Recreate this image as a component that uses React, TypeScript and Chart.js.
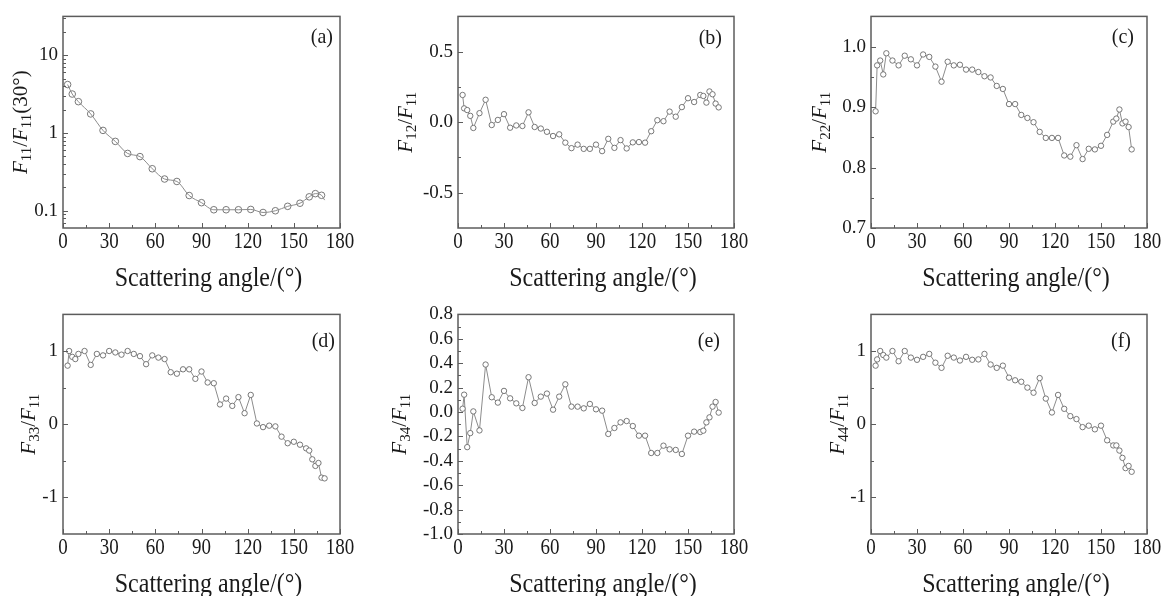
import React, { useEffect, useRef } from 'react';
import { Chart, registerables } from 'chart.js';
Chart.register(...registerables);

// ---------------- data ----------------
const anglesA = [3, 6, 10, 18, 26, 34, 42, 50, 58, 66, 74, 82, 90, 98, 106, 114, 122, 130, 138, 146, 154, 160, 164, 168];
const f11Ratio = [4.2, 3.17, 2.53, 1.76, 1.08, 0.78, 0.546, 0.497, 0.347, 0.256, 0.238, 0.157, 0.127, 0.103, 0.103, 0.103, 0.104, 0.095, 0.1, 0.114, 0.125, 0.151, 0.166, 0.158];
const f11FitTailAngle = [170];
const f11FitTailValue = [0.137];

const angles = [3, 4, 6, 8, 10, 14, 18, 22, 26, 30, 34, 38, 42, 46, 50, 54, 58, 62, 66, 70, 74, 78, 82, 86, 90, 94, 98, 102, 106, 110, 114, 118, 122, 126, 130, 134, 138, 142, 146, 150, 154, 158, 160, 162, 164, 166, 168, 170];
const f12 = [0.193, 0.098, 0.086, 0.045, -0.041, 0.064, 0.159, -0.02, 0.016, 0.057, -0.039, -0.023, -0.027, 0.07, -0.034, -0.045, -0.068, -0.098, -0.086, -0.145, -0.184, -0.159, -0.189, -0.189, -0.159, -0.205, -0.118, -0.182, -0.127, -0.186, -0.143, -0.141, -0.145, -0.064, 0.014, 0.007, 0.075, 0.039, 0.107, 0.17, 0.143, 0.193, 0.186, 0.139, 0.218, 0.198, 0.132, 0.105];
const f22 = [0.893, 0.969, 0.977, 0.954, 0.989, 0.977, 0.969, 0.985, 0.979, 0.969, 0.987, 0.983, 0.967, 0.942, 0.975, 0.969, 0.97, 0.962, 0.962, 0.958, 0.951, 0.949, 0.935, 0.93, 0.905, 0.905, 0.887, 0.882, 0.875, 0.859, 0.849, 0.849, 0.849, 0.82, 0.818, 0.837, 0.814, 0.831, 0.83, 0.836, 0.854, 0.876, 0.881, 0.896, 0.873, 0.876, 0.867, 0.83];
const f33 = [0.8, 1.0, 0.92, 0.89, 0.96, 1.0, 0.81, 0.96, 0.94, 1.0, 0.98, 0.95, 1.0, 0.96, 0.93, 0.82, 0.94, 0.91, 0.89, 0.71, 0.69, 0.75, 0.75, 0.62, 0.72, 0.57, 0.56, 0.27, 0.35, 0.25, 0.37, 0.15, 0.4, 0.01, -0.04, -0.02, -0.03, -0.17, -0.26, -0.24, -0.28, -0.33, -0.36, -0.48, -0.57, -0.53, -0.73, -0.74];
const f34 = [0.027, 0.142, -0.288, -0.173, 0.005, -0.151, 0.389, 0.121, 0.077, 0.173, 0.112, 0.071, 0.033, 0.285, 0.074, 0.126, 0.151, 0.019, 0.126, 0.227, 0.044, 0.044, 0.03, 0.066, 0.022, 0.011, -0.18, -0.131, -0.085, -0.074, -0.115, -0.194, -0.194, -0.336, -0.336, -0.276, -0.306, -0.311, -0.344, -0.194, -0.161, -0.164, -0.153, -0.085, -0.044, 0.044, 0.082, -0.005];
const f44 = [0.8, 0.885, 1.0, 0.945, 0.91, 1.0, 0.86, 1.0, 0.91, 0.88, 0.92, 0.96, 0.84, 0.77, 0.935, 0.91, 0.87, 0.92, 0.88, 0.885, 0.96, 0.815, 0.77, 0.8, 0.636, 0.6, 0.58, 0.5, 0.43, 0.63, 0.35, 0.16, 0.4, 0.21, 0.11, 0.07, -0.04, -0.02, -0.07, -0.02, -0.22, -0.29, -0.29, -0.36, -0.46, -0.6, -0.57, -0.65];

const xTicks = [0, 30, 60, 90, 120, 150, 180];
const yTicksA = [0.1, 1, 10];
const yTicksB = [-0.5, 0, 0.5];
const yTicksC = [0.7, 0.8, 0.9, 1.0];
const yTicksD = [-1, 0, 1];
const yTicksE = [-1.0, -0.8, -0.6, -0.4, -0.2, 0, 0.2, 0.4, 0.6, 0.8];
const yTicksF = [-1, 0, 1];

const xTitle = 'Scattering angle/(°)';

// ---------------- style ----------------
const FONT = "'Liberation Serif', 'Times New Roman', serif";
const TEXT = '#1a1a1a';
const FRAME = '#5c5c5c';
const LINE = '#8c8c8c';
const MARK = '#6a6a6a';
const X_STRETCH = 1.17;

type Part = { t: string; it?: boolean; sub?: boolean };

type PanelCfg = {
  key: string;
  left: number; top: number; w: number; h: number;
  yW: number; padR: number; padT: number; xH: number;
  log?: boolean; min: number; max: number; yTicks: number[]; dec: number;
  xs: number[]; ys: number[]; showLine: boolean; fit?: boolean; r: number;
  title: Part[]; titleDx: number; label: string; labelDx: number; labelDy: number;
};

const yt = (n: string): Part[] => [
  { t: 'F', it: true }, { t: n, sub: true }, { t: '/' }, { t: 'F', it: true }, { t: '11', sub: true },
];

const panels: PanelCfg[] = [
  { key: 'a', left: 0, top: 0, w: 390, h: 298, yW: 63, padR: 50, padT: 7, xH: 70, log: true, min: 0.06, max: 31.6, yTicks: yTicksA, dec: -1,
    xs: anglesA, ys: f11Ratio, showLine: false, fit: true, r: 3.3,
    title: [{ t: 'F', it: true }, { t: '11', sub: true }, { t: '/' }, { t: 'F', it: true }, { t: '11', sub: true }, { t: '(30°)' }], titleDx: -43, label: '(a)', labelDx: -7, labelDy: 27 },
  { key: 'b', left: 390, top: 0, w: 388, h: 298, yW: 68, padR: 44, padT: 7, xH: 70, min: -0.75, max: 0.75, yTicks: yTicksB, dec: 1,
    xs: angles, ys: f12, showLine: true, r: 2.7, title: yt('12'), titleDx: -53, label: '(b)', labelDx: -12, labelDy: 28 },
  { key: 'c', left: 778, top: 0, w: 390, h: 298, yW: 93, padR: 21, padT: 7, xH: 70, min: 0.7, max: 1.05, yTicks: yTicksC, dec: 1,
    xs: angles, ys: f22, showLine: true, r: 2.7, title: yt('22'), titleDx: -52, label: '(c)', labelDx: -13, labelDy: 27 },
  { key: 'd', left: 0, top: 298, w: 390, h: 298, yW: 63, padR: 50, padT: 16, xH: 62, min: -1.5, max: 1.5, yTicks: yTicksD, dec: 0,
    xs: angles, ys: f33, showLine: true, r: 2.7, title: yt('33'), titleDx: -35, label: '(d)', labelDx: -5, labelDy: 33 },
  { key: 'e', left: 390, top: 298, w: 388, h: 298, yW: 68, padR: 44, padT: 16, xH: 62, min: -1.0, max: 0.8, yTicks: yTicksE, dec: 1,
    xs: angles, ys: f34, showLine: true, r: 2.7, title: yt('34'), titleDx: -59, label: '(e)', labelDx: -14, labelDy: 33 },
  { key: 'f', left: 778, top: 298, w: 390, h: 298, yW: 93, padR: 21, padT: 16, xH: 62, min: -1.5, max: 1.5, yTicks: yTicksF, dec: 0,
    xs: angles, ys: f44, showLine: true, r: 2.7, title: yt('44'), titleDx: -34, label: '(f)', labelDx: -16, labelDy: 33 },
];

function drawRich(ctx: CanvasRenderingContext2D, parts: Part[], cx: number, cy: number, size: number, rotate: boolean) {
  ctx.save();
  ctx.translate(cx, cy);
  if (rotate) ctx.rotate(-Math.PI / 2);
  const fontFor = (p: Part) => `${p.it ? 'italic ' : ''}${p.sub ? Math.round(size * 0.7) : size}px ${FONT}`;
  let total = 0;
  const widths = parts.map((p) => {
    ctx.font = fontFor(p);
    const w = ctx.measureText(p.t).width;
    total += w;
    return w;
  });
  let x = -total / 2;
  ctx.fillStyle = TEXT;
  ctx.textAlign = 'left';
  ctx.textBaseline = 'alphabetic';
  parts.forEach((p, i) => {
    ctx.font = fontFor(p);
    ctx.fillText(p.t, x, size * 0.34 + (p.sub ? size * 0.2 : 0));
    x += widths[i];
  });
  ctx.restore();
}

function stretchedText(ctx: CanvasRenderingContext2D, text: string, x: number, baseY: number, font: string, sy: number, align: CanvasTextAlign) {
  ctx.save();
  ctx.translate(x, baseY);
  ctx.scale(1, sy);
  ctx.font = font;
  ctx.fillStyle = TEXT;
  ctx.textAlign = align;
  ctx.textBaseline = 'alphabetic';
  ctx.fillText(text, 0, 0);
  ctx.restore();
}

function minorValues(cfg: PanelCfg): number[] {
  const out: number[] = [];
  if (cfg.log) {
    for (let e = -2; e <= 1; e++) {
      for (let m = 2; m <= 9; m++) {
        const v = m * Math.pow(10, e);
        if (v > cfg.min && v < cfg.max) out.push(v);
      }
    }
    return out;
  }
  const t = cfg.yTicks;
  const step = t[1] - t[0];
  for (let v = t[0] - step / 2; v < cfg.max; v += step) {
    if (v > cfg.min + 1e-9 && v < cfg.max - 1e-9) out.push(v);
  }
  return out;
}

function makeDeco(cfg: PanelCfg) {
  return {
    id: 'deco' + cfg.key,
    afterDraw(chart: any) {
      const ctx: CanvasRenderingContext2D = chart.ctx;
      const { left, right, top, bottom } = chart.chartArea;
      const xs = chart.scales.x;
      const ys = chart.scales.y;
      ctx.save();
      ctx.strokeStyle = FRAME;
      ctx.lineWidth = 1.5;
      ctx.strokeRect(left, top, right - left, bottom - top);
      ctx.lineWidth = 1;
      ctx.beginPath();
      xTicks.forEach((v) => {
        const px = Math.round(xs.getPixelForValue(v)) + 0.5;
        ctx.moveTo(px, bottom);
        ctx.lineTo(px, bottom - 5);
      });
      for (let v = 15; v < 180; v += 30) {
        const px = Math.round(xs.getPixelForValue(v)) + 0.5;
        ctx.moveTo(px, bottom);
        ctx.lineTo(px, bottom - 3);
      }
      cfg.yTicks.forEach((v) => {
        const py = Math.round(ys.getPixelForValue(v)) + 0.5;
        ctx.moveTo(left, py);
        ctx.lineTo(left + 5, py);
      });
      minorValues(cfg).forEach((v) => {
        const py = Math.round(ys.getPixelForValue(v)) + 0.5;
        ctx.moveTo(left, py);
        ctx.lineTo(left + 3, py);
      });
      ctx.stroke();
      ctx.restore();

      // x tick labels (slightly tall, as in the reference)
      xTicks.forEach((v) => {
        stretchedText(ctx, String(v), xs.getPixelForValue(v), bottom + 20, `19px ${FONT}`, X_STRETCH, 'center');
      });
      // axis titles
      drawRich(ctx, cfg.title, left + cfg.titleDx, (top + bottom) / 2, 21, true);
      stretchedText(ctx, xTitle, (left + right) / 2 + 7, bottom + 58, `24px ${FONT}`, 1.17, 'center');
      // panel label
      stretchedText(ctx, cfg.label, right + cfg.labelDx, top + cfg.labelDy, `20px ${FONT}`, 1.1, 'right');
    },
  };
}

function buildConfig(cfg: PanelCfg): any {
  const pts = cfg.xs.map((x, i) => ({ x, y: cfg.ys[i] }));
  const datasets: any[] = [];
  if (cfg.fit) {
    const fitPts = pts.concat(f11FitTailAngle.map((x, i) => ({ x, y: f11FitTailValue[i] })));
    datasets.push({
      data: fitPts, showLine: true, pointRadius: 0, borderColor: LINE, borderWidth: 1,
      cubicInterpolationMode: 'monotone', fill: false,
    });
  }
  datasets.push({
    data: pts, showLine: cfg.showLine, borderColor: LINE, borderWidth: 1, tension: 0, fill: false,
    pointRadius: cfg.r, pointBorderWidth: 0.9, pointBorderColor: MARK, pointBackgroundColor: '#ffffff',
  });
  const fmt = (v: number) => (cfg.log ? String(v) : Number(v).toFixed(cfg.dec));
  return {
    type: 'line',
    data: { datasets },
    plugins: [makeDeco(cfg)],
    options: {
      animation: false,
      responsive: false,
      maintainAspectRatio: false,
      events: [],
      layout: { padding: { left: 0, right: cfg.padR, top: cfg.padT, bottom: 0 } },
      plugins: { legend: { display: false }, tooltip: { enabled: false }, title: { display: false } },
      scales: {
        x: {
          type: 'linear', min: 0, max: 180,
          afterBuildTicks: (s: any) => { s.ticks = xTicks.map((v) => ({ value: v })); },
          afterFit: (s: any) => { s.height = cfg.xH; },
          grid: { display: false, drawTicks: false, tickLength: 0 },
          border: { display: false },
          ticks: { display: false },
        },
        y: {
          type: cfg.log ? 'logarithmic' : 'linear', min: cfg.min, max: cfg.max,
          afterBuildTicks: (s: any) => { s.ticks = cfg.yTicks.map((v) => ({ value: v })); },
          afterFit: (s: any) => { s.width = cfg.yW; },
          grid: { display: false, drawTicks: false, tickLength: 0 },
          border: { display: false },
          ticks: { font: { family: FONT, size: 19 }, color: TEXT, padding: 5, autoSkip: false, callback: (v: any) => fmt(v) },
        },
      },
    },
  };
}

function Panel({ cfg }: { cfg: PanelCfg }) {
  const ref = useRef<HTMLCanvasElement>(null);
  useEffect(() => {
    const chart = new Chart(ref.current as HTMLCanvasElement, buildConfig(cfg));
    return () => chart.destroy();
  }, []);
  return (
    <canvas
      ref={ref}
      width={cfg.w}
      height={cfg.h}
      style={{ position: 'absolute', left: cfg.left, top: cfg.top, width: cfg.w, height: cfg.h }}
    />
  );
}

export default function App() {
  return (
    <div style={{ position: 'absolute', left: 0, top: 0, width: 1168, height: 596, background: '#ffffff', overflow: 'hidden' }}>
      {panels.map((p) => (
        <Panel key={p.key} cfg={p} />
      ))}
    </div>
  );
}
